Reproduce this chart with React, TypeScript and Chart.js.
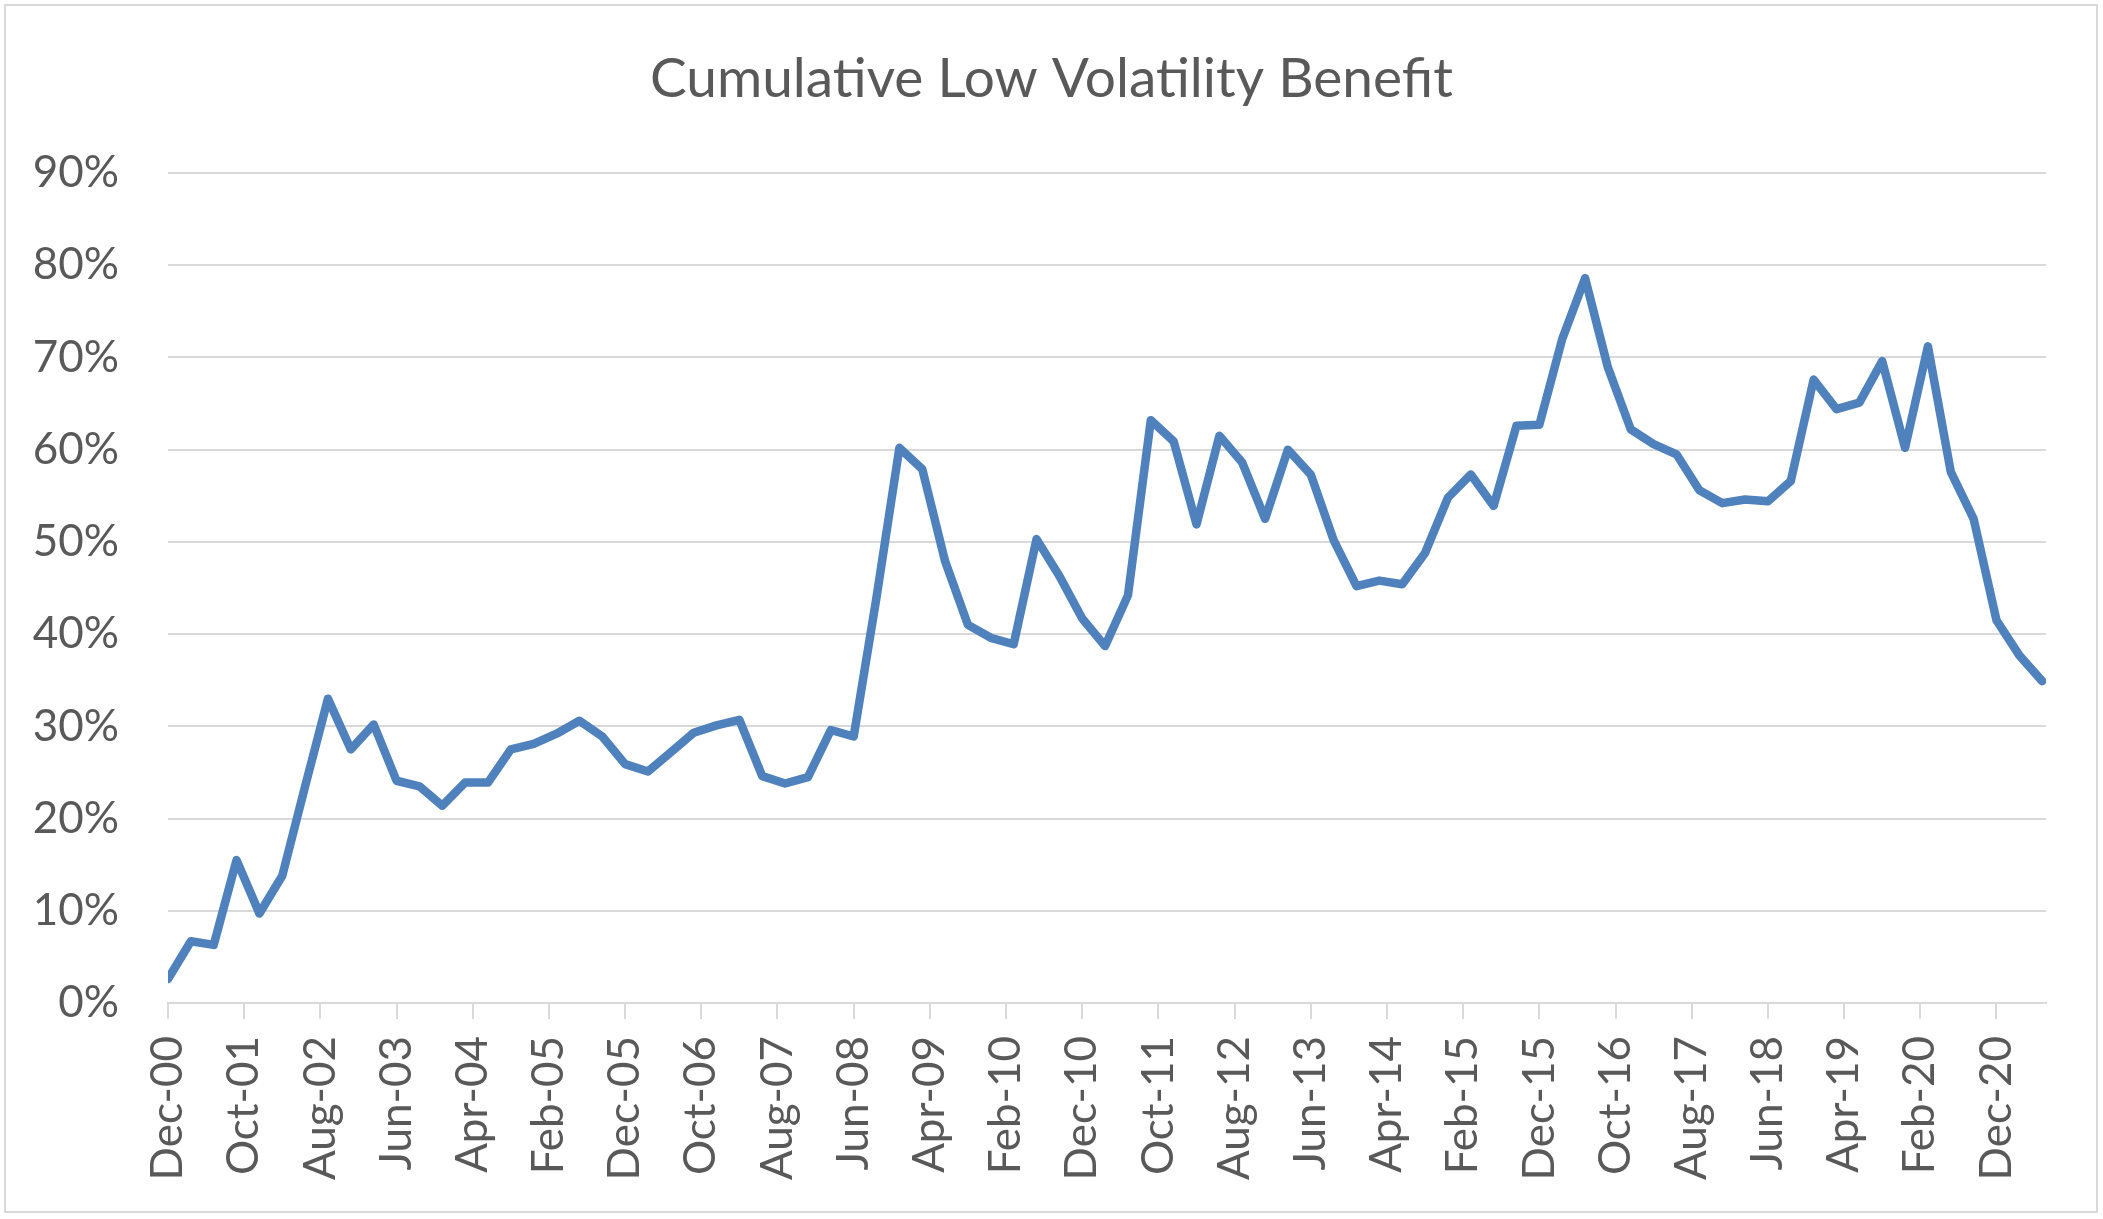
import React, { useEffect, useRef } from 'react';
import { Chart, registerables } from 'chart.js';

Chart.register(...registerables);

// quarter-end dates of the series
const quarters = [
  'Dec-00', 'Mar-01', 'Jun-01', 'Sep-01', 'Dec-01', 'Mar-02', 'Jun-02', 'Sep-02', 'Dec-02',
  'Mar-03', 'Jun-03', 'Sep-03', 'Dec-03', 'Mar-04', 'Jun-04', 'Sep-04', 'Dec-04',
  'Mar-05', 'Jun-05', 'Sep-05', 'Dec-05', 'Mar-06', 'Jun-06', 'Sep-06', 'Dec-06',
  'Mar-07', 'Jun-07', 'Sep-07', 'Dec-07', 'Mar-08', 'Jun-08', 'Sep-08', 'Dec-08',
  'Mar-09', 'Jun-09', 'Sep-09', 'Dec-09', 'Mar-10', 'Jun-10', 'Sep-10', 'Dec-10',
  'Mar-11', 'Jun-11', 'Sep-11', 'Dec-11', 'Mar-12', 'Jun-12', 'Sep-12', 'Dec-12',
  'Mar-13', 'Jun-13', 'Sep-13', 'Dec-13', 'Mar-14', 'Jun-14', 'Sep-14', 'Dec-14',
  'Mar-15', 'Jun-15', 'Sep-15', 'Dec-15', 'Mar-16', 'Jun-16', 'Sep-16', 'Dec-16',
  'Mar-17', 'Jun-17', 'Sep-17', 'Dec-17', 'Mar-18', 'Jun-18', 'Sep-18', 'Dec-18',
  'Mar-19', 'Jun-19', 'Sep-19', 'Dec-19', 'Mar-20', 'Jun-20', 'Sep-20', 'Dec-20',
  'Mar-21', 'Jun-21',
];

// cumulative benefit, in %
const benefit = [
  2.6, 6.7, 6.3, 15.5, 9.7, 13.8, 23.5, 33.0, 27.5,
  30.2, 24.1, 23.5, 21.4, 23.9, 23.9, 27.5, 28.1,
  29.2, 30.6, 28.9, 25.9, 25.1, 27.2, 29.3, 30.1,
  30.7, 24.6, 23.8, 24.5, 29.6, 28.9, 44.0, 60.2,
  57.9, 47.9, 41.0, 39.6, 38.9, 50.3, 46.3, 41.7,
  38.7, 44.2, 63.2, 60.9, 51.9, 61.5, 58.6, 52.5,
  60.0, 57.3, 50.2, 45.2, 45.8, 45.4, 48.8, 54.8,
  57.3, 53.9, 62.6, 62.7, 72.0, 78.6, 68.9, 62.2,
  60.6, 59.5, 55.6, 54.2, 54.6, 54.4, 56.6, 67.6,
  64.4, 65.1, 69.6, 60.2, 71.2, 57.6, 52.5, 41.5,
  37.7, 34.9,
];

// date axis labels, every 10 months
const axisLabels = [
  'Dec-00', 'Oct-01', 'Aug-02', 'Jun-03', 'Apr-04', 'Feb-05', 'Dec-05', 'Oct-06', 'Aug-07',
  'Jun-08', 'Apr-09', 'Feb-10', 'Dec-10', 'Oct-11', 'Aug-12', 'Jun-13', 'Apr-14', 'Feb-15',
  'Dec-15', 'Oct-16', 'Aug-17', 'Jun-18', 'Apr-19', 'Feb-20', 'Dec-20',
];

const TITLE = 'Cumulative Low Volatility Benefit';

const MONTHS = ['Jan', 'Feb', 'Mar', 'Apr', 'May', 'Jun', 'Jul', 'Aug', 'Sep', 'Oct', 'Nov', 'Dec'];

// months since Dec-00
const monthIndex = (label: string) => {
  const [mon, yy] = label.split('-');
  return Number(yy) * 12 + MONTHS.indexOf(mon) - 11;
};

const FONT = 'Lato';
const TEXT = '#595959';
const GRID = '#d9d9d9';

const W = 2103;
const H = 1219;

// white chart area with thin grey outline, title centred on the whole canvas
const chartFrame = {
  id: 'chartFrame',
  beforeDraw(chart: any) {
    const { ctx, width, height } = chart;
    ctx.save();
    ctx.fillStyle = '#ffffff';
    ctx.fillRect(0, 0, width, height);
    ctx.strokeStyle = GRID;
    ctx.lineWidth = 2;
    ctx.strokeRect(5, 5, width - 11, height - 12);
    ctx.restore();
  },
  afterDraw(chart: any) {
    const { ctx, width } = chart;
    ctx.save();
    ctx.fillStyle = TEXT;
    ctx.font = `55px ${FONT}`;
    ctx.textAlign = 'center';
    ctx.textBaseline = 'alphabetic';
    ctx.fillText(TITLE, width / 2, 97);
    ctx.restore();
  },
};

const App: React.FC = () => {
  const canvasRef = useRef<HTMLCanvasElement>(null);

  useEffect(() => {
    if (!canvasRef.current) return;

    const chart = new Chart(canvasRef.current, {
      type: 'line',
      data: {
        datasets: [
          {
            label: TITLE,
            data: quarters.map((q, i) => ({ x: monthIndex(q), y: benefit[i] })),
            borderColor: '#4f81bd',
            borderWidth: 8.5,
            borderJoinStyle: 'round',
            borderCapStyle: 'round',
            pointRadius: 0,
            tension: 0,
            fill: false,
          },
        ],
      },
      options: {
        animation: false,
        responsive: true,
        maintainAspectRatio: false,
        layout: { padding: { left: 0, right: 57, top: 173, bottom: 0 } },
        scales: {
          x: {
            type: 'linear',
            min: 0,
            max: 246.5,
            afterBuildTicks: (scale: any) => {
              scale.ticks = axisLabels.map((l) => ({ value: monthIndex(l) }));
            },
            afterFit: (scale: any) => {
              scale.height = H - 1003;
            },
            ticks: {
              autoSkip: false,
              minRotation: 90,
              maxRotation: 90,
              padding: 17,
              color: TEXT,
              font: { family: FONT, size: 44 },
              callback: (_v: any, i: number) => axisLabels[i],
            },
            grid: {
              drawOnChartArea: false,
              drawTicks: true,
              tickLength: 16,
              color: GRID,
              lineWidth: 2,
            },
            border: { display: true, color: GRID, width: 2 },
          },
          y: {
            min: 0,
            max: 90,
            afterFit: (scale: any) => {
              scale.width = 168;
            },
            ticks: {
              stepSize: 10,
              padding: 49,
              color: TEXT,
              font: { family: FONT, size: 44 },
              callback: (v: any) => v + '%',
            },
            grid: { color: GRID, lineWidth: 2, drawTicks: false },
            border: { display: false },
          },
        },
        plugins: {
          legend: { display: false },
          tooltip: { enabled: false },
          title: { display: false },
        },
      },
      plugins: [chartFrame],
    });

    return () => chart.destroy();
  }, []);

  return (
    <div style={{ position: 'absolute', left: 0, top: 0, width: W, height: H, background: '#fff' }}>
      <canvas ref={canvasRef} />
    </div>
  );
};

export default App;
